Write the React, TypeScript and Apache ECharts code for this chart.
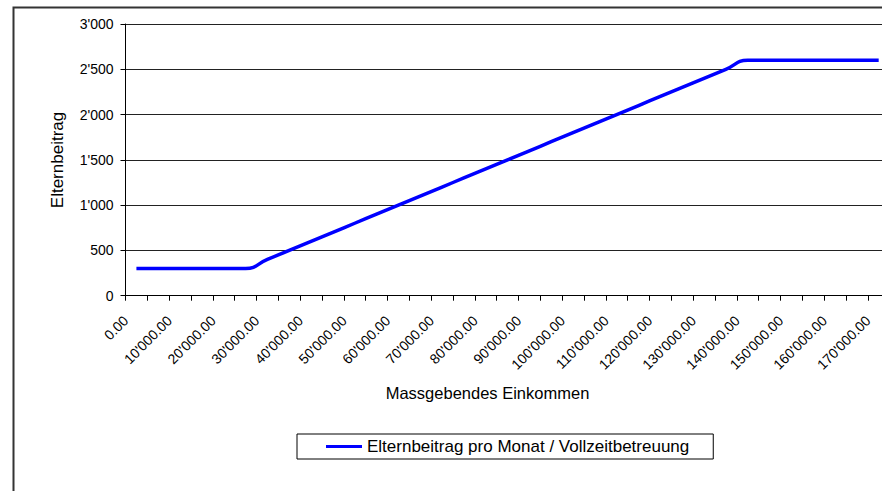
import React, { useEffect, useRef } from "react";
import * as echarts from "echarts";

const incomes = [
  0, 5000, 10000, 15000, 20000, 25000, 30000, 35000, 40000, 45000, 50000, 55000,
  60000, 65000, 70000, 75000, 80000, 85000, 90000, 95000, 100000, 105000, 110000,
  115000, 120000, 125000, 130000, 135000, 140000, 145000, 150000, 155000, 160000,
  165000, 170000,
];

const contributions = [
  300, 300, 300, 300, 300, 300, 400, 500, 600, 700, 800, 900, 1000, 1100, 1200,
  1300, 1400, 1500, 1600, 1700, 1800, 1900, 2000, 2100, 2200, 2300, 2400, 2500,
  2600, 2600, 2600, 2600, 2600, 2600, 2600,
];

const yTicks = [0, 500, 1000, 1500, 2000, 2500, 3000];

const seriesName = "Elternbeitrag pro Monat / Vollzeitbetreuung";
const xTitle = "Massgebendes Einkommen";
const yTitle = "Elternbeitrag";

const FONT = "'Liberation Sans', Arial, sans-serif";

function groupThousands(n: number): string {
  const s = Math.round(n).toString();
  return s.replace(/\B(?=(\d{3})+(?!\d))/g, "'");
}

function fmtIncome(v: string | number): string {
  const n = Number(v);
  return groupThousands(Math.floor(n)) + "." + (Math.round(n * 100) % 100).toString().padStart(2, "0");
}

export default function App() {
  const ref = useRef<HTMLDivElement>(null);
  useEffect(() => {
    if (!ref.current) return;
    const chart = echarts.init(ref.current, undefined, { renderer: "svg" });
    chart.setOption({
      animation: false,
      backgroundColor: "#ffffff",
      textStyle: { fontFamily: FONT },
      grid: {
        left: 125.5,
        top: 24,
        right: -7.6,
        bottom: 195.3,
        containLabel: false,
        outerBoundsMode: "none",
      },
      xAxis: {
        type: "category",
        data: incomes,
        boundaryGap: true,
        axisLine: { lineStyle: { color: "#000", width: 1 } },
        axisTick: { show: true, interval: 0, length: 5, lineStyle: { color: "#000" } },
        axisLabel: {
          interval: 1,
          rotate: 45,
          fontSize: 14,
          color: "#000",
          fontFamily: FONT,
          margin: 12,
          padding: [0, 15, 0, 0],
          formatter: (v: string) => fmtIncome(v),
        },
        splitLine: { show: false },
      },
      yAxis: {
        type: "value",
        min: yTicks[0],
        max: yTicks[yTicks.length - 1],
        interval: 500,
        axisLine: { show: true, lineStyle: { color: "#000", width: 1 } },
        axisTick: { show: true, length: 5, lineStyle: { color: "#000" } },
        axisLabel: {
          fontSize: 14,
          color: "#000",
          fontFamily: FONT,
          margin: 12,
          formatter: (v: number) => groupThousands(v),
        },
        splitLine: { show: true, lineStyle: { color: "#222", width: 1 } },
      },
      legend: {
        show: true,
        left: 297,
        top: 434,
        orient: "horizontal",
        borderColor: "#000",
        borderWidth: 1,
        padding: [4, 24, 4, 29],
        itemWidth: 36,
        itemHeight: 14,
        itemGap: 0,
        textStyle: { fontSize: 17, color: "#000", fontFamily: FONT, padding: [0, 0, 0, 0] },
        data: [{ name: seriesName, icon: "path://M0,0 L36,0 L36,3 L0,3 Z" }],
      },
      series: [
        {
          name: seriesName,
          type: "line",
          data: contributions,
          smooth: 0.5,
          symbol: "none",
          showSymbol: false,
          lineStyle: { color: "#0000ff", width: 3.5 },
          itemStyle: { color: "#0000ff" },
        },
      ],
      graphic: [
        {
          type: "rect",
          left: 11,
          top: 5,
          shape: { x: 0, y: 0, width: 900, height: 600 },
          style: { fill: "none", stroke: "#333", lineWidth: 2 },
          silent: true,
          z: 100,
        },
        {
          type: "text",
          x: 57.5,
          y: 160,
          rotation: Math.PI / 2,
          style: {
            text: yTitle,
            fontSize: 17,
            fontFamily: FONT,
            fill: "#000",
            align: "center",
            verticalAlign: "middle",
          },
        },
        {
          type: "text",
          x: 487.5,
          y: 393,
          style: {
            text: xTitle,
            fontSize: 16.5,
            fontFamily: FONT,
            fill: "#000",
            align: "center",
            verticalAlign: "middle",
          },
        },
      ],
    });
    return () => chart.dispose();
  }, []);
  return (
    <div
      ref={ref}
      style={{ position: "fixed", left: 0, top: 0, width: 882, height: 491, background: "#fff" }}
    />
  );
}
